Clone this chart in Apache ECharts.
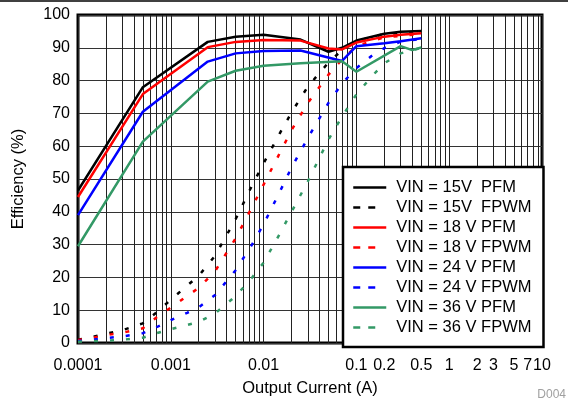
<!DOCTYPE html>
<html><head><meta charset="utf-8">
<script src="https://cdn.jsdelivr.net/npm/echarts@6/dist/echarts.min.js"></script>
<style>html,body{margin:0;padding:0;background:#fff}#c{width:568px;height:402px}</style>
</head><body><div id="c"></div>
<script>
// ---- data ----
const seriesNames = ['VIN = 15V  PFM','VIN = 15V  FPWM','VIN = 18 V PFM','VIN = 18 V FPWM','VIN = 24 V PFM','VIN = 24 V FPWM','VIN = 36 V PFM','VIN = 36 V FPWM'];
const xTickLabels = [0.0001, 0.001, 0.01, 0.1, 0.2, 0.5, 1, 2, 3, 5, 7, 10];
const yTicks = [0,10,20,30,40,50,60,70,80,90,100];

const pfm15I = [0.0001,0.0005,0.0025,0.005,0.01,0.025,0.05,0.07,0.1,0.2,0.3,0.5];
const pfm15E = [46.5,78,91.8,93.4,94,92.5,88.8,90,92.2,94.3,94.9,95.1];
const pfm18I = [0.0001,0.0005,0.0025,0.005,0.01,0.025,0.05,0.07,0.1,0.2,0.3,0.5];
const pfm18E = [44.5,75.9,90.2,91.8,92.4,92.2,89.8,89.5,91.6,93.4,94,94.4];
const pfm24I = [0.0001,0.0005,0.0025,0.005,0.01,0.025,0.07,0.1,0.2,0.3,0.5];
const pfm24E = [39,70.5,85.8,88.3,89,89.2,86,90.5,91.4,92,92.9];
const pfm36I = [0.0001,0.0005,0.0025,0.005,0.01,0.025,0.07,0.1,0.3,0.4,0.5];
const pfm36E = [29.5,61.4,79.7,83,84.5,85.3,85.9,82.7,90.5,89.3,90.1];

const fpwm15I = [0.0001,0.00015,0.0002,0.0003,0.0005,0.0007,0.001,0.0015,0.002,0.003,0.005,0.0075,0.01,0.015,0.02,0.03,0.05,0.07,0.1,0.2,0.5];
const fpwm15E = [1,2,2.8,3.9,6,9.3,13.2,17.5,20.5,26.6,37.8,48,54.8,64,70.3,78.2,85.5,89.3,92,94.2,95];
const fpwm18I = [0.0001,0.00015,0.0002,0.0003,0.0005,0.0007,0.001,0.0015,0.002,0.003,0.005,0.0075,0.01,0.015,0.02,0.03,0.05,0.07,0.1,0.2,0.5];
const fpwm18E = [0.9,1.7,2.4,3.1,4.5,7.8,10.8,14.3,16.8,21.9,31.9,41.4,48.3,58,64.9,73.2,81.8,86.5,90.5,93.2,94.2];
const fpwm24I = [0.0001,0.00015,0.0002,0.0003,0.0005,0.0007,0.001,0.0015,0.002,0.003,0.005,0.0075,0.01,0.015,0.02,0.03,0.05,0.07,0.1,0.15,0.2,0.3,0.5];
const fpwm24E = [0.6,1.1,1.5,2,3,4.8,7,9.2,10.9,14.6,22.2,30,36.2,46.2,53.5,62.5,73.2,79.1,83.8,87.8,89.9,91.9,92.7];
const fpwm36I = [0.0001,0.00015,0.0002,0.0003,0.0005,0.0007,0.001,0.0015,0.002,0.003,0.005,0.0075,0.01,0.015,0.02,0.03,0.05,0.07,0.1,0.15,0.2,0.3,0.5];
const fpwm36E = [0.4,0.6,0.7,1,1.6,3,4.2,5.5,6.4,9,14.3,19.9,24.5,33.4,40,49.3,62,69,75.8,81.6,85.3,88.3,90];

// ---- styles ----
const FONT = 'Liberation Sans, Arial, Helvetica, sans-serif';
const COLORS = ['#000000','#000000','#ff0000','#ff0000','#0000ff','#0000ff','#339966','#339966'];
const dataSets = [[pfm15I,pfm15E],[fpwm15I,fpwm15E],[pfm18I,pfm18E],[fpwm18I,fpwm18E],[pfm24I,pfm24E],[fpwm24I,fpwm24E],[pfm36I,pfm36E],[fpwm36I,fpwm36E]];

// vertical grid lines at 1..9 of every decade
const gridValues = [];
[0.0001,0.001,0.01,0.1,1].forEach(d => { for (let k = 1; k <= 9; k++) gridValues.push(+(k*d).toPrecision(3)); });
gridValues.push(10);

const series = dataSets.map((ds, i) => {
  const dashed = i % 2 === 1;
  return {
    name: seriesNames[i],
    type: 'line',
    data: ds[0].map((x, j) => [x, ds[1][j]]),
    symbol: 'none',
    smooth: false,
    z: dashed ? 2 : 3,
    lineStyle: { color: COLORS[i], width: 2.5, type: dashed ? [4, 12] : 'solid', cap: 'butt' },
    itemStyle: { color: COLORS[i] },
    animation: false
  };
});

const chart = echarts.init(document.getElementById('c'), null, { renderer: 'canvas' });
chart.setOption({
  animation: false,
  backgroundColor: '#fff',
  textStyle: { fontFamily: FONT },
  grid: { left: 78, right: 26, top: 15, bottom: 59, show: true, borderColor: '#000', borderWidth: 3, backgroundColor: 'transparent' },
  xAxis: {
    type: 'log', logBase: 10, min: 0.0001, max: 10,
    axisLine: { show: false },
    axisTick: { show: false, customValues: gridValues },
    splitLine: { show: true, lineStyle: { color: '#222', width: 1 } },
    axisLabel: { customValues: xTickLabels, formatter: v => String(v), color: '#000', fontSize: 16, margin: 15, fontFamily: FONT, hideOverlap: false },
    name: 'Output Current (A)', nameLocation: 'middle', nameGap: 37,
    nameTextStyle: { color: '#000', fontSize: 16.5, fontFamily: FONT }
  },
  yAxis: {
    type: 'value', min: 0, max: 100, interval: 10,
    axisLine: { show: false },
    axisTick: { show: false },
    splitLine: { show: true, lineStyle: { color: '#333', width: 1.2 } },
    axisLabel: { color: '#000', fontSize: 16, margin: 8, fontFamily: FONT },
    name: 'Efficiency (%)', nameLocation: 'middle', nameGap: 51,
    nameTextStyle: { color: '#000', fontSize: 16.5, fontFamily: FONT }
  },
  legend: {
    orient: 'vertical', left: 343, top: 167,
    padding: [12, 12, 11, 9],
    backgroundColor: '#fff', borderColor: '#000', borderWidth: 2.5, borderRadius: 0,
    itemWidth: 33, itemHeight: 14, itemGap: 3,
    itemStyle: { opacity: 0 },
    textStyle: { color: '#000', fontSize: 16.5, fontFamily: FONT, padding: [0, 0, 0, 5] },
    data: seriesNames.map((n, i) => i % 2 === 1
      ? { name: n, itemStyle: { opacity: 0 }, lineStyle: { type: [7, 8, 7, 30], width: 2.5, color: COLORS[i] } }
      : { name: n, itemStyle: { opacity: 0 }, lineStyle: { type: 'solid', width: 2.5, color: COLORS[i] } }),
    selectedMode: false
  },
  graphic: [
    { type: 'line', shape: { x1: 0, y1: 1, x2: 568, y2: 1 }, style: { stroke: '#000', lineWidth: 1.5 } },
    { type: 'text', right: 2, top: 389, style: { text: 'D004', fill: '#a0a0a0', font: '12px ' + FONT } }
  ],
  series: series
});
</script>
</body></html>
